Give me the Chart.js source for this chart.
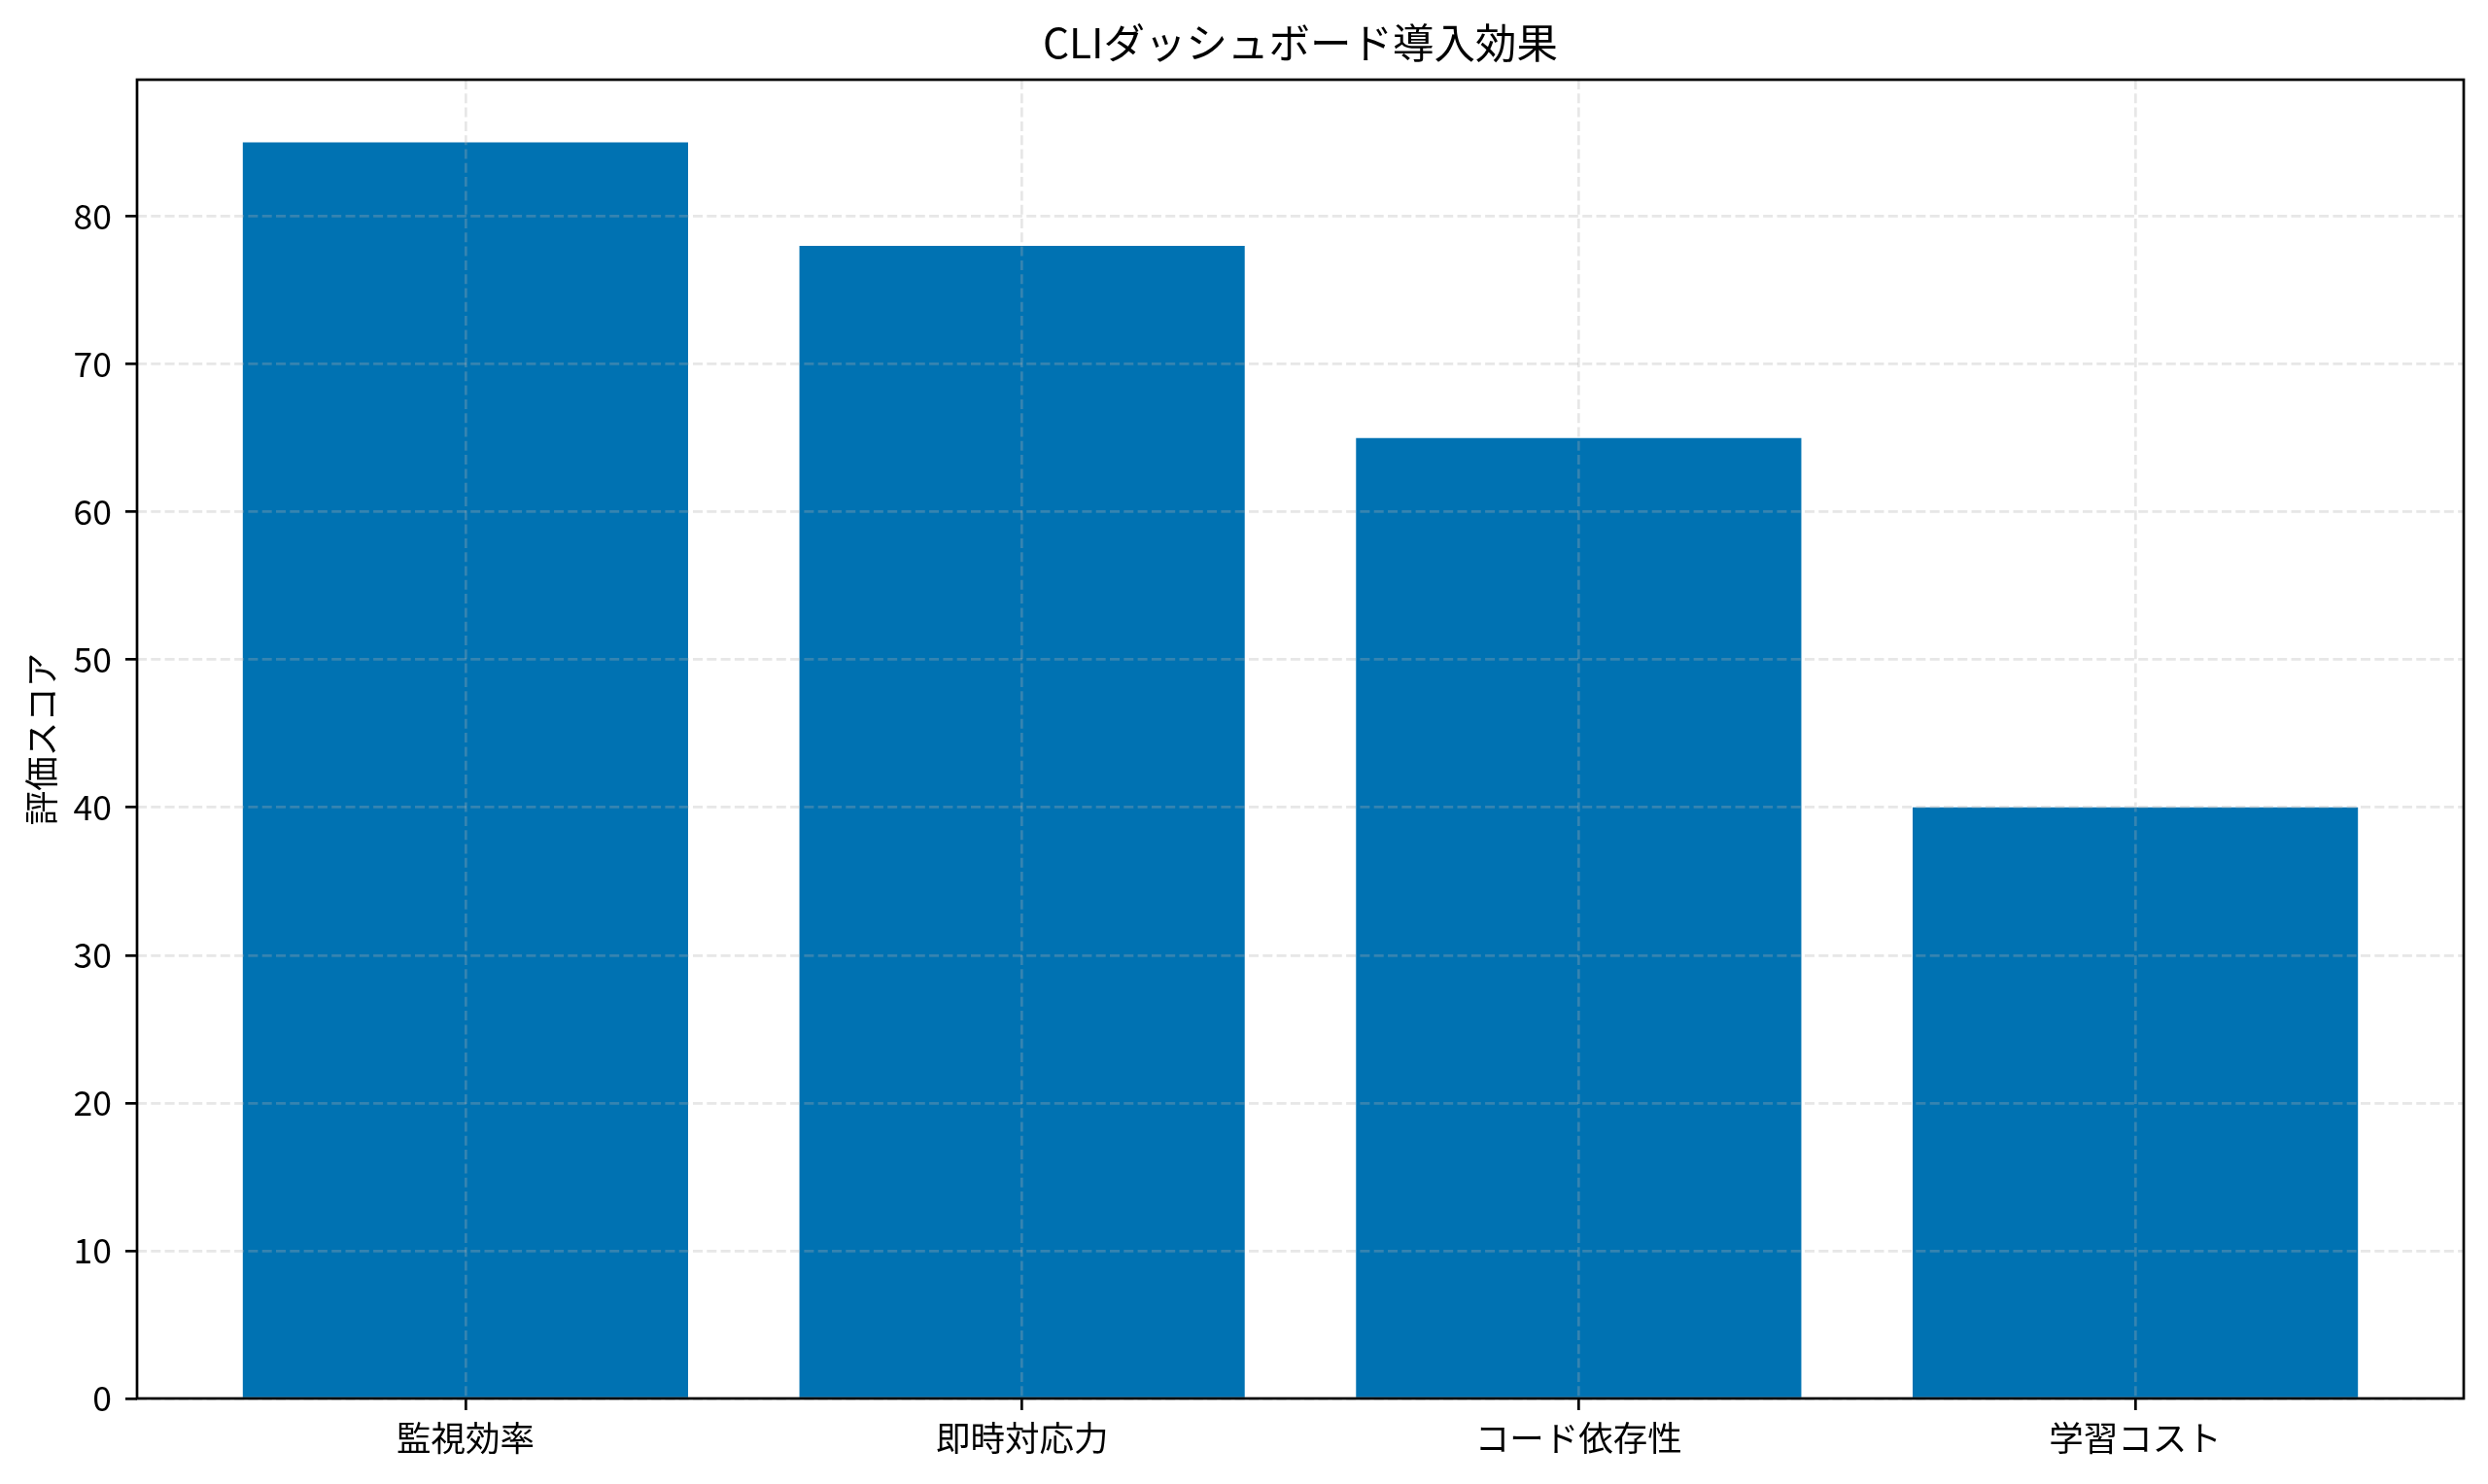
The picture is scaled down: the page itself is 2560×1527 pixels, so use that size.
<!DOCTYPE html>
<html>
<head>
<meta charset="utf-8">
<script src="https://cdn.jsdelivr.net/npm/chart.js@4"></script>
<style>
  html, body { margin: 0; padding: 0; background: #ffffff; }
  #wrap { width: 2560px; height: 1527px; }
</style>
</head>
<body>
<div id="wrap"><canvas id="c" width="2560" height="1527"></canvas></div>
<script>
const categories = ["監視効率", "即時対応力", "コード依存性", "学習コスト"];
const scores = [85, 78, 65, 40];
const yTickValues = [0, 10, 20, 30, 40, 50, 60, 70, 80];
const chartTitle = "CLIダッシュボード導入効果";
const yAxisTitle = "評価スコア";

const FONT = "'Noto Sans CJK JP', 'Noto Sans', sans-serif";
const barColor = "#0072B2";
const gridColor = "rgba(176,176,176,0.3)";

const framePlugin = {
  id: 'frame',
  afterDraw(chart) {
    const a = chart.chartArea;
    const ctx = chart.ctx;
    ctx.save();
    ctx.strokeStyle = '#000';
    ctx.lineWidth = 2.7;
    ctx.setLineDash([]);
    ctx.strokeRect(a.left, a.top, a.right - a.left, a.bottom - a.top);
    // title centred over the plot area
    ctx.fillStyle = '#000';
    ctx.font = "42.5px " + FONT;
    ctx.textAlign = 'center';
    ctx.textBaseline = 'middle';
    ctx.fillText(chartTitle, (a.left + a.right) / 2, 44);
    ctx.restore();
  }
};

const gridOpts = {
  color: gridColor,
  lineWidth: 2.7,
  offset: false,
  z: 1,
  drawTicks: true,
  tickLength: 12,
  tickColor: '#000',
  tickWidth: 2.7,
  tickBorderDash: []
};

new Chart(document.getElementById('c'), {
  type: 'bar',
  data: {
    datasets: [{
      data: categories.map((c, i) => ({ x: i, y: scores[i] })),
      backgroundColor: barColor,
      borderWidth: 0,
      barPercentage: 0.8,
      categoryPercentage: 1.0
    }]
  },
  options: {
    responsive: false,
    animation: false,
    devicePixelRatio: 1,
    layout: { padding: { left: 0, right: 25, top: 82, bottom: 0 } },
    plugins: {
      legend: { display: false },
      tooltip: { enabled: false },
      title: { display: false }
    },
    scales: {
      x: {
        type: 'linear',
        min: -0.59,
        max: 3.59,
        offset: false,
        afterFit: (s) => { s.height = 88; },
        afterBuildTicks: (axis) => { axis.ticks = categories.map((c, i) => ({ value: i })); },
        border: { display: false, dash: [10, 4.3] },
        grid: gridOpts,
        ticks: {
          autoSkip: false,
          maxRotation: 0,
          padding: 7,
          color: '#000',
          font: { family: FONT, size: 35.5 },
          callback: (v) => categories[v] !== undefined ? categories[v] : ''
        }
      },
      y: {
        type: 'linear',
        min: 0,
        max: 89.25,
        afterFit: (s) => { s.width = 141; },
        afterBuildTicks: (axis) => { axis.ticks = yTickValues.map(v => ({ value: v })); },
        border: { display: false, dash: [10, 4.3] },
        grid: gridOpts,
        ticks: {
          padding: 14,
          color: '#000',
          font: { family: FONT, size: 35.5 },
          callback: (v) => String(v)
        },
        title: {
          display: true,
          text: yAxisTitle,
          color: '#000',
          font: { family: FONT, size: 35.5, lineHeight: 1.2 },
          padding: { top: 21, bottom: 0 }
        }
      }
    }
  },
  plugins: [framePlugin]
});
</script>
</body>
</html>
